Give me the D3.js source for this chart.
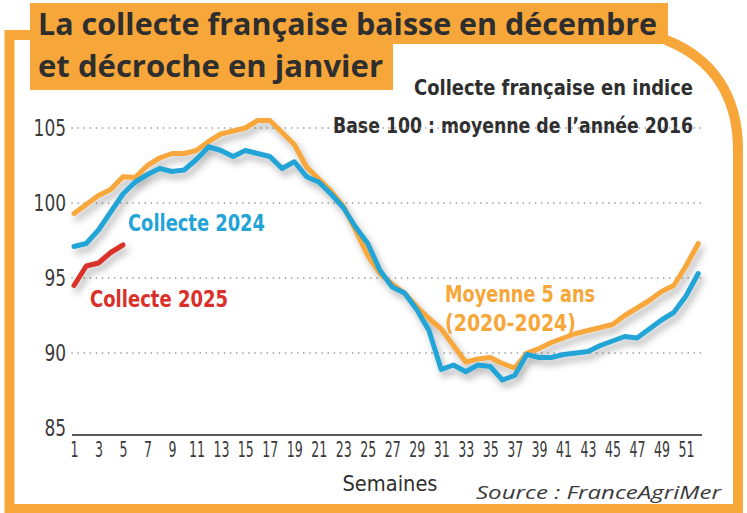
<!DOCTYPE html>
<html><head><meta charset="utf-8">
<script src="https://cdn.jsdelivr.net/npm/d3@7"></script>
<style>
html,body{margin:0;padding:0;background:#fff;}
svg{display:block;}
</style></head>
<body>
<script>
const weeks = [1,2,3,4,5,6,7,8,9,10,11,12,13,14,15,16,17,18,19,20,21,22,23,24,25,26,27,28,29,30,31,32,33,34,35,36,37,38,39,40,41,42,43,44,45,46,47,48,49,50,51,52];
const moyenne5ans = [99.3,99.9,100.5,100.9,101.75,101.7,102.5,103.0,103.3,103.3,103.5,104.1,104.6,104.8,105.0,105.5,105.5,104.7,103.9,102.4,101.6,100.8,99.8,98.2,96.5,95.3,94.6,94.0,93.1,92.3,91.6,90.5,89.4,89.6,89.7,89.3,89.0,90.0,90.3,90.7,91.0,91.3,91.5,91.7,91.9,92.5,93.0,93.5,94.1,94.5,95.8,97.3];
const collecte2024 = [97.1,97.3,98.2,99.4,100.6,101.4,101.9,102.3,102.1,102.2,102.9,103.75,103.5,103.1,103.5,103.3,103.1,102.3,102.75,101.75,101.4,100.6,99.7,98.4,97.3,95.5,94.4,94.0,92.9,91.5,88.9,89.2,88.75,89.2,89.1,88.2,88.5,89.9,89.7,89.7,89.9,90.0,90.1,90.5,90.8,91.1,91.0,91.6,92.2,92.7,93.8,95.3];
const collecte2025 = [94.5,95.8,96.0,96.7,97.2];
const yTicks = [85,90,95,100,105];
const xTickLabels = [1,3,5,7,9,11,13,15,17,19,21,23,25,27,29,31,33,35,37,39,41,43,45,47,49,51];

const W = 747, H = 513;
const ORANGE = "#f7a73a", BLUE = "#22a4d6", RED = "#d9302a", DARK = "#2e2e2e";
const NARROW = "'Liberation Sans Narrow','DejaVu Sans Condensed','Roboto',sans-serif";

const svg = d3.select("body").append("svg").attr("width", W).attr("height", H);

const defs = svg.append("defs");
const f = defs.append("filter").attr("id","sh").attr("x","-10%").attr("y","-10%").attr("width","130%").attr("height","140%");
f.append("feDropShadow").attr("dx",3).attr("dy",5).attr("stdDeviation",3.5).attr("flood-color","#000").attr("flood-opacity",0.3);

// Frame
svg.append("path")
  .attr("d","M32,35 L9.5,35 L9.5,509 L738,509 L738,150 C738,95 712,58 666,40")
  .attr("fill","none").attr("stroke",ORANGE).attr("stroke-width",10);
svg.append("rect").attr("x",30).attr("y",3).attr("width",638).attr("height",41).attr("fill",ORANGE);
svg.append("rect").attr("x",30).attr("y",43).attr("width",363).attr("height",47).attr("fill",ORANGE);

svg.append("text").attr("x",38).attr("y",35).text("La collecte française baisse en décembre")
  .attr("font-family","'Open Sans','DejaVu Sans',sans-serif").attr("font-weight",700).attr("font-size",31)
  .attr("fill",DARK).attr("textLength",619).attr("lengthAdjust","spacingAndGlyphs");
svg.append("text").attr("x",38).attr("y",77).text("et décroche en janvier")
  .attr("font-family","'Open Sans','DejaVu Sans',sans-serif").attr("font-weight",700).attr("font-size",31)
  .attr("fill",DARK).attr("textLength",345).attr("lengthAdjust","spacingAndGlyphs");

svg.append("text").attr("x",693).attr("y",95).attr("text-anchor","end").text("Collecte française en indice")
  .attr("font-family",NARROW).attr("font-weight",700).attr("font-size",22).attr("fill",DARK)
  .attr("textLength",279).attr("lengthAdjust","spacingAndGlyphs");
svg.append("text").attr("x",693).attr("y",133).attr("text-anchor","end").text("Base 100 : moyenne de l\u2019année 2016")
  .attr("font-family",NARROW).attr("font-weight",700).attr("font-size",22).attr("fill",DARK)
  .attr("textLength",360).attr("lengthAdjust","spacingAndGlyphs");

// Scales
const x = d3.scaleLinear().domain([1,51]).range([74,686]);
const y = d3.scaleLinear().domain([85,105]).range([428,128]);

// gridlines
svg.append("g").selectAll("line").data(yTicks.filter(d=>d>85)).join("line")
  .attr("x1",72).attr("x2",702).attr("y1",d=>y(d)).attr("y2",d=>y(d))
  .attr("stroke","#8a8a8a").attr("stroke-width",1.6).attr("stroke-dasharray","0.1,6").attr("stroke-linecap","round");

// bottom axis line
svg.append("line").attr("x1",72).attr("x2",702).attr("y1",y(85)+7).attr("y2",y(85)+7)
  .attr("stroke","#5a5a5a").attr("stroke-width",2);

// y tick labels
svg.append("g").selectAll("text").data(yTicks).join("text")
  .attr("x",66).attr("y",d=>y(d)+8).attr("text-anchor","end").text(d=>d)
  .attr("font-family",NARROW).attr("font-size",23).attr("fill","#3a3a3a")
  .attr("textLength",d=>String(d).length*10.8).attr("lengthAdjust","spacingAndGlyphs");

// x tick labels via axis
const xAxis = d3.axisBottom(x).tickValues(xTickLabels).tickSize(0).tickPadding(0).tickFormat(d3.format("d"));
const gx = svg.append("g").attr("transform",`translate(0,${y(85)+12})`).call(xAxis);
gx.select(".domain").remove();
gx.selectAll("text").attr("font-family",NARROW).attr("font-size",21).attr("fill","#3a3a3a").attr("dy","0.8em")
  .attr("textLength",d=>String(d).length*8).attr("lengthAdjust","spacingAndGlyphs");

svg.append("text").attr("x",390).attr("y",491).attr("text-anchor","middle").text("Semaines")
  .attr("font-family",NARROW).attr("font-size",22).attr("fill","#2e2e2e")
  .attr("textLength",95).attr("lengthAdjust","spacingAndGlyphs");
svg.append("text").attr("x",721).attr("y",499).attr("text-anchor","end").text("Source : FranceAgriMer")
  .attr("font-family","'Open Sans','DejaVu Sans',sans-serif").attr("font-style","italic").attr("font-size",19).attr("fill","#3a3a3a")
  .attr("textLength",245).attr("lengthAdjust","spacingAndGlyphs");

// Lines
const line = d3.line().x((d,i)=>x(weeks[i])).y(d=>y(d)).curve(d3.curveLinear);
const gl = svg.append("g").attr("filter","url(#sh)");
gl.append("path").datum(moyenne5ans).attr("d",line).attr("fill","none").attr("stroke",ORANGE).attr("stroke-width",5).attr("stroke-linejoin","round").attr("stroke-linecap","round");
gl.append("path").datum(collecte2024).attr("d",line).attr("fill","none").attr("stroke",BLUE).attr("stroke-width",5).attr("stroke-linejoin","round").attr("stroke-linecap","round");
gl.append("path").datum(collecte2025).attr("d",line).attr("fill","none").attr("stroke",RED).attr("stroke-width",5).attr("stroke-linejoin","round").attr("stroke-linecap","round");

// Series labels
const lab = (t,xx,yy,c,len)=>svg.append("text").attr("x",xx).attr("y",yy).text(t)
  .attr("font-family",NARROW).attr("font-weight",700).attr("font-size",23).attr("fill",c)
  .attr("textLength",len).attr("lengthAdjust","spacingAndGlyphs");
lab("Collecte 2024",128,231,BLUE,137);
lab("Collecte 2025",90,307,RED,138);
lab("Moyenne 5 ans",445,302,ORANGE,150);
lab("(2020-2024)",445,331,ORANGE,131);
</script>
</body></html>
